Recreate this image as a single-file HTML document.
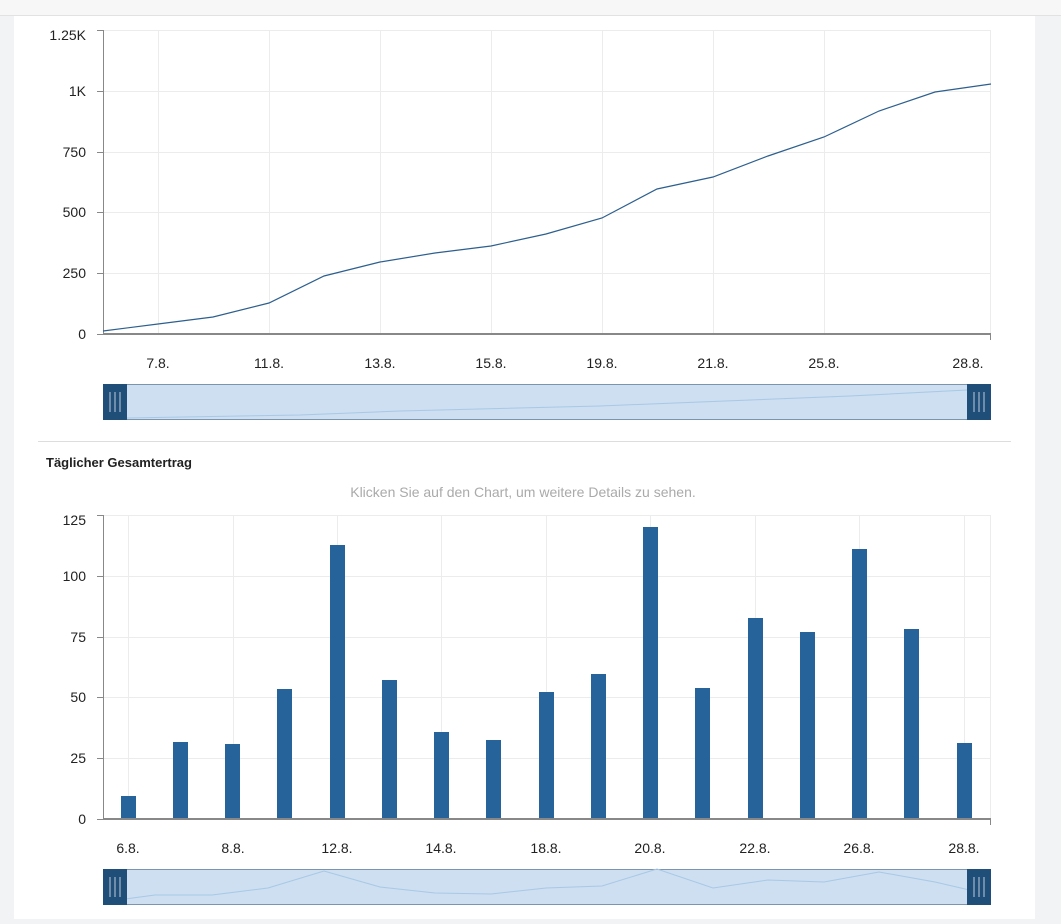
<!DOCTYPE html>
<html><head><meta charset="utf-8"><style>
body{margin:0;width:1061px;height:919px;overflow:hidden;background:#f2f3f5;font-family:"Liberation Sans",sans-serif}
</style></head><body>
<svg width="1061" height="919" xmlns="http://www.w3.org/2000/svg" font-family="Liberation Sans, sans-serif">
<rect x="0" y="0" width="1061" height="15" fill="#f7f7f7"/>
<line x1="0" y1="15.5" x2="1061" y2="15.5" stroke="#e2e2e2"/>
<rect x="14" y="16" width="1021" height="903" fill="#fff"/>
<g stroke="#ececec">
<line x1="103" y1="30.5" x2="991" y2="30.5"/><line x1="103" y1="91.5" x2="991" y2="91.5"/><line x1="103" y1="152.5" x2="991" y2="152.5"/><line x1="103" y1="212.5" x2="991" y2="212.5"/><line x1="103" y1="273.5" x2="991" y2="273.5"/>
<line x1="158.5" y1="30" x2="158.5" y2="334"/><line x1="269.5" y1="30" x2="269.5" y2="334"/><line x1="380.5" y1="30" x2="380.5" y2="334"/><line x1="491.5" y1="30" x2="491.5" y2="334"/><line x1="602.5" y1="30" x2="602.5" y2="334"/><line x1="713.5" y1="30" x2="713.5" y2="334"/><line x1="824.5" y1="30" x2="824.5" y2="334"/><line x1="990.5" y1="30" x2="990.5" y2="334"/>
</g>
<g stroke="#888"><line x1="103.5" y1="30" x2="103.5" y2="335"/><line x1="103" y1="334" x2="991" y2="334" stroke-width="2"/>
<line x1="97" y1="30.5" x2="103" y2="30.5"/><line x1="97" y1="91.5" x2="103" y2="91.5"/><line x1="97" y1="152.5" x2="103" y2="152.5"/><line x1="97" y1="212.5" x2="103" y2="212.5"/><line x1="97" y1="273.5" x2="103" y2="273.5"/><line x1="97" y1="334.5" x2="103" y2="334.5"/><line x1="990.5" y1="334" x2="990.5" y2="340"/></g>
<g font-size="14" fill="#222" text-anchor="end">
<text x="86" y="40">1.25K</text><text x="86" y="96">1K</text><text x="86" y="157">750</text><text x="86" y="217">500</text><text x="86" y="278">250</text><text x="86" y="339">0</text></g>
<g font-size="14" fill="#222" text-anchor="middle">
<text x="158" y="368">7.8.</text><text x="269" y="368">11.8.</text><text x="380" y="368">13.8.</text><text x="491" y="368">15.8.</text><text x="602" y="368">19.8.</text><text x="713" y="368">21.8.</text><text x="824" y="368">25.8.</text><text x="968" y="368">28.8.</text></g>
<polyline fill="none" stroke="#2d5f8e" stroke-width="1.2" points="103,331 158,324 213,317 269,303 324,276 380,262 435,253 491,246 546,234 602,218 657,189 713,177 768,156 824,137 879,111 935,92 991,84"/>
<rect x="103.5" y="384.5" width="887" height="35" fill="#cddff0" stroke="#7b95b0"/>
<polyline fill="none" stroke="#a8c8e6" points="127,418 300,415 400,411 600,406 700,402 850,396 967,390"/>
<rect x="103" y="384" width="24" height="36" fill="#1f4e79"/><rect x="967" y="384" width="24" height="36" fill="#1f4e79"/>
<g stroke="#8aa2bc" stroke-width="1.5"><line x1="110" y1="392" x2="110" y2="412"/><line x1="115" y1="392" x2="115" y2="412"/><line x1="120" y1="392" x2="120" y2="412"/><line x1="974" y1="392" x2="974" y2="412"/><line x1="979" y1="392" x2="979" y2="412"/><line x1="984" y1="392" x2="984" y2="412"/></g>
<line x1="38" y1="441.5" x2="1011" y2="441.5" stroke="#ddd"/>
<text x="46" y="467" font-size="13" fill="#222" font-weight="bold" style="font-weight:600">Täglicher Gesamtertrag</text>
<text x="523" y="497" font-size="14" fill="#aaa" text-anchor="middle">Klicken Sie auf den Chart, um weitere Details zu sehen.</text>
<g stroke="#ececec">
<line x1="103" y1="515.5" x2="991" y2="515.5"/><line x1="103" y1="576.5" x2="991" y2="576.5"/><line x1="103" y1="637.5" x2="991" y2="637.5"/><line x1="103" y1="697.5" x2="991" y2="697.5"/><line x1="103" y1="758.5" x2="991" y2="758.5"/>
<line x1="128.5" y1="515" x2="128.5" y2="819"/><line x1="233.5" y1="515" x2="233.5" y2="819"/><line x1="337.5" y1="515" x2="337.5" y2="819"/><line x1="441.5" y1="515" x2="441.5" y2="819"/><line x1="546.5" y1="515" x2="546.5" y2="819"/><line x1="650.5" y1="515" x2="650.5" y2="819"/><line x1="755.5" y1="515" x2="755.5" y2="819"/><line x1="859.5" y1="515" x2="859.5" y2="819"/><line x1="964.5" y1="515" x2="964.5" y2="819"/><line x1="990.5" y1="515" x2="990.5" y2="819"/>
</g>
<g fill="#26639a">
<rect x="121" y="796" width="15" height="23"/><rect x="173" y="742" width="15" height="77"/><rect x="225" y="744" width="15" height="75"/><rect x="277" y="689" width="15" height="130"/><rect x="330" y="545" width="15" height="274"/><rect x="382" y="680" width="15" height="139"/><rect x="434" y="732" width="15" height="87"/><rect x="486" y="740" width="15" height="79"/><rect x="539" y="692" width="15" height="127"/><rect x="591" y="674" width="15" height="145"/><rect x="643" y="527" width="15" height="292"/><rect x="695" y="688" width="15" height="131"/><rect x="748" y="618" width="15" height="201"/><rect x="800" y="632" width="15" height="187"/><rect x="852" y="549" width="15" height="270"/><rect x="904" y="629" width="15" height="190"/><rect x="957" y="743" width="15" height="76"/></g>
<g stroke="#888"><line x1="103.5" y1="515" x2="103.5" y2="820"/><line x1="103" y1="819" x2="991" y2="819" stroke-width="2"/>
<line x1="97" y1="515.5" x2="103" y2="515.5"/><line x1="97" y1="576.5" x2="103" y2="576.5"/><line x1="97" y1="637.5" x2="103" y2="637.5"/><line x1="97" y1="697.5" x2="103" y2="697.5"/><line x1="97" y1="758.5" x2="103" y2="758.5"/><line x1="97" y1="819.5" x2="103" y2="819.5"/><line x1="990.5" y1="819" x2="990.5" y2="825"/></g>
<g font-size="14" fill="#222" text-anchor="end">
<text x="86" y="525">125</text><text x="86" y="581">100</text><text x="86" y="642">75</text><text x="86" y="702">50</text><text x="86" y="763">25</text><text x="86" y="824">0</text></g>
<g font-size="14" fill="#222" text-anchor="middle">
<text x="128" y="853">6.8.</text><text x="233" y="853">8.8.</text><text x="337" y="853">12.8.</text><text x="441" y="853">14.8.</text><text x="546" y="853">18.8.</text><text x="650" y="853">20.8.</text><text x="755" y="853">22.8.</text><text x="859" y="853">26.8.</text><text x="964" y="853">28.8.</text></g>
<rect x="103.5" y="869.5" width="887" height="35" fill="#cddff0" stroke="#7b95b0"/>
<polyline fill="none" stroke="#a8c8e6" points="103,902 155,895 212,895 268,888 324,871 380,887 435,893 491,894 546,888 602,886 657,869 713,888 768,880 824,882 879,872 935,882 991,895"/>
<rect x="103" y="869" width="24" height="36" fill="#1f4e79"/><rect x="967" y="869" width="24" height="36" fill="#1f4e79"/>
<g stroke="#8aa2bc" stroke-width="1.5"><line x1="110" y1="877" x2="110" y2="897"/><line x1="115" y1="877" x2="115" y2="897"/><line x1="120" y1="877" x2="120" y2="897"/><line x1="974" y1="877" x2="974" y2="897"/><line x1="979" y1="877" x2="979" y2="897"/><line x1="984" y1="877" x2="984" y2="897"/></g>
</svg>
</body></html>
